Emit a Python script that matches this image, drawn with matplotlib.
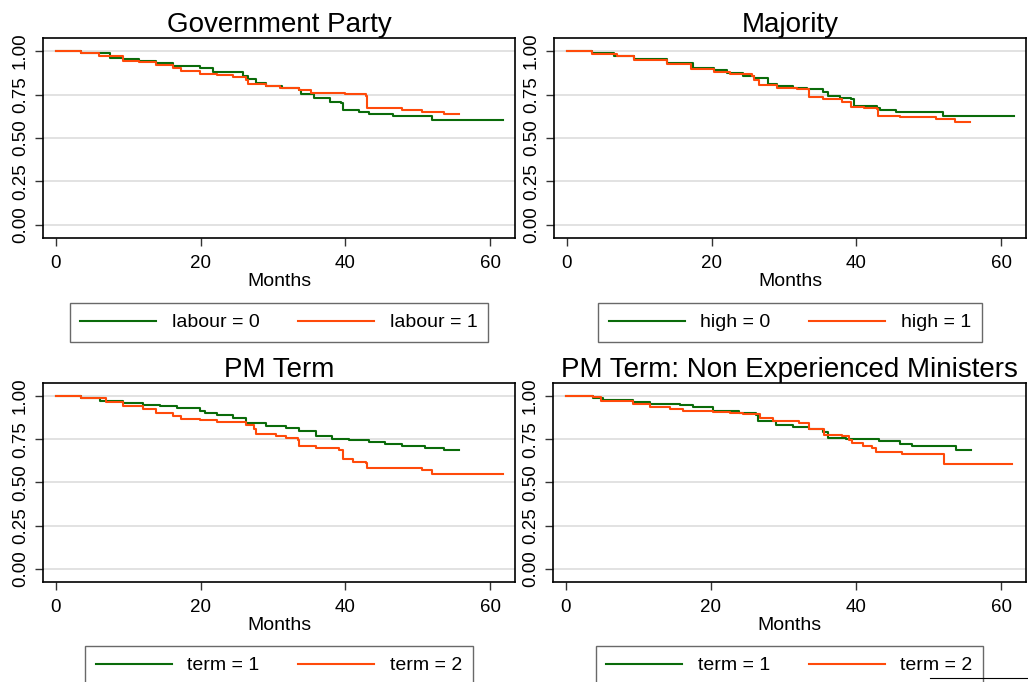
import matplotlib
matplotlib.use("Agg")
import matplotlib.pyplot as plt
from matplotlib.lines import Line2D

plt.rcParams['font.family'] = ['Liberation Sans', 'DejaVu Sans']

GREEN = '#0a6b0a'
ORANGE = '#ff4a0a'

# Kaplan-Meier steps (months, survival)
gov_t0 = [0, 3.5, 7.5, 9.3, 11.5, 13.9, 16.2, 19.9, 21.7, 25.8, 26.5, 27.7, 29, 31.3, 33.6, 33.9,
          35.7, 37.8, 39.4, 39.6, 41.9, 43.3, 46.5, 52, 61.7]
gov_s0 = [1.0, 0.99, 0.958, 0.952, 0.945, 0.933, 0.914, 0.90, 0.881, 0.856, 0.841, 0.814, 0.80, 0.79,
          0.776, 0.751, 0.728, 0.709, 0.70, 0.661, 0.647, 0.636, 0.626, 0.603, 0.603]
gov_t1 = [0, 3.5, 6, 9.3, 11.5, 13.9, 16.2, 17.3, 19.9, 22.2, 24.5, 26.3, 26.5, 29, 30.9, 33.6,
          35.2, 40, 42.8, 43, 47.8, 50.6, 53.6, 55.7]
gov_s1 = [1.0, 0.99, 0.97, 0.943, 0.935, 0.92, 0.90, 0.885, 0.868, 0.86, 0.852, 0.833, 0.808, 0.80,
          0.79, 0.776, 0.757, 0.751, 0.743, 0.67, 0.661, 0.651, 0.636, 0.636]

maj_t0 = [0, 3.5, 6.5, 9.3, 13.9, 17.5, 20.3, 22.1, 24.4, 25.8, 27.8, 29, 31.3, 33.2, 35.4, 36.1,
          37.7, 39.3, 39.6, 42.8, 43.2, 45.5, 52, 61.7]
maj_s0 = [1.0, 0.99, 0.971, 0.952, 0.929, 0.90, 0.89, 0.875, 0.856, 0.845, 0.81, 0.80, 0.789, 0.78,
          0.766, 0.743, 0.732, 0.722, 0.684, 0.67, 0.661, 0.65, 0.626, 0.626]
maj_t1 = [0, 3.5, 7, 9.3, 13.9, 17.1, 20.3, 22.6, 25.6, 25.8, 26.5, 29, 31.8, 33.4, 35.4, 38, 39.3,
          41, 42.8, 43, 46, 51, 53.6, 55.7]
maj_s1 = [1.0, 0.985, 0.971, 0.948, 0.925, 0.897, 0.881, 0.868, 0.856, 0.833, 0.805, 0.79, 0.78,
          0.738, 0.724, 0.709, 0.68, 0.674, 0.665, 0.628, 0.623, 0.609, 0.594, 0.594]

pm_t1 = [0, 3.5, 6.1, 9.3, 12, 14.4, 16.7, 19.9, 20.6, 22.2, 24.5, 26.3, 29, 31.8, 33.6, 35.9, 38.2,
         40.5, 43.3, 45.5, 47.8, 51, 53.6, 55.7]
pm_s1 = [1.0, 0.99, 0.973, 0.958, 0.948, 0.941, 0.929, 0.916, 0.903, 0.891, 0.872, 0.845, 0.824,
         0.815, 0.80, 0.767, 0.754, 0.744, 0.735, 0.721, 0.712, 0.70, 0.687, 0.687]
pm_t2 = [0, 3.5, 7, 9.3, 12, 13.9, 16.2, 17.3, 19.9, 22.2, 26.3, 27.4, 27.6, 30.4, 31.8, 33.4, 33.6,
         35.9, 39.1, 39.6, 41, 42.8, 43, 50.6, 52, 61.7]
pm_s2 = [1.0, 0.99, 0.964, 0.94, 0.926, 0.90, 0.884, 0.868, 0.863, 0.85, 0.834, 0.807, 0.78, 0.771,
         0.758, 0.744, 0.712, 0.70, 0.687, 0.634, 0.62, 0.611, 0.582, 0.573, 0.55, 0.55]

ne_t1 = [0, 3.8, 5.2, 9.3, 11.6, 15.7, 17.5, 20.3, 23.9, 26.2, 26.5, 29, 31.3, 33.5, 35.4, 36.1,
         38.6, 43.1, 46, 47.7, 53.7, 55.8]
ne_s1 = [1.0, 0.989, 0.979, 0.964, 0.954, 0.945, 0.935, 0.916, 0.903, 0.891, 0.853, 0.834, 0.82,
         0.807, 0.792, 0.76, 0.75, 0.739, 0.725, 0.712, 0.69, 0.69]
ne_t2 = [0, 3.8, 4.8, 9.3, 11.6, 14.4, 16.2, 20.3, 22.6, 24.4, 26.7, 28.5, 32.2, 33.5, 35.6, 38.1,
         39, 39.5, 40.9, 42.2, 42.7, 46.3, 52.1, 61.5]
ne_s2 = [1.0, 0.993, 0.969, 0.956, 0.935, 0.922, 0.916, 0.906, 0.901, 0.897, 0.872, 0.853, 0.845,
         0.807, 0.773, 0.767, 0.748, 0.731, 0.71, 0.697, 0.677, 0.662, 0.605, 0.605]

titles = ["Government Party", "Majority", "PM Term", "PM Term: Non Experienced Ministers"]
labels = [("labour = 0", "labour = 1"), ("high = 0", "high = 1"),
          ("term = 1", "term = 2"), ("term = 1", "term = 2")]
curves = [(gov_t0, gov_s0, gov_t1, gov_s1), (maj_t0, maj_s0, maj_t1, maj_s1),
          (pm_t1, pm_s1, pm_t2, pm_s2), (ne_t1, ne_s1, ne_t2, ne_s2)]

yticks = [0, 0.25, 0.5, 0.75, 1.0]
xticks = [0, 20, 40, 60]

W, H = 1028, 682
fig = plt.figure(figsize=(W / 100, H / 100), dpi=100)

# axes boxes in pixels: left, top, right, bottom
boxes = [(43, 38, 515, 238), (554, 38, 1026, 238),
         (43, 383, 515, 582), (553, 383, 1026, 582)]
legend_tops = [303, 303, 646, 646]

for i in range(4):
    l, t, r, b = boxes[i]
    ax = fig.add_axes([l / W, 1 - b / H, (r - l) / W, (b - t) / H])
    ta, sa, tb, sb = curves[i]
    la, lb = labels[i]
    ax.step(ta, sa, where='post', color=GREEN, lw=1.5, label=la)
    ax.step(tb, sb, where='post', color=ORANGE, lw=1.5, label=lb)
    ax.set_xlim(-1.75, 63.4)
    ax.set_ylim(-0.075, 1.075)
    ax.set_yticks(yticks)
    ax.set_yticklabels(["%.2f" % v for v in yticks])
    ax.set_xticks(xticks)
    for y in yticks:
        ax.axhline(y, color='#e2e2e2', lw=1.4, zorder=0)
    ax.tick_params(axis='both', labelsize=13.5, length=6, width=1, color='#333333')
    ax.tick_params(axis='x', pad=6.5)
    ax.tick_params(axis='y', labelrotation=90, pad=4)
    for lab in ax.get_yticklabels():
        lab.set_va('center')
    for sp in ax.spines.values():
        sp.set_linewidth(1.2)
    ax.set_xlabel("Months", fontsize=14, labelpad=0.5)
    ax.set_title(titles[i], fontsize=20, pad=3)
    cx = (l + r) / 2
    ax.legend(loc='upper center', bbox_to_anchor=(cx / W, 1 - legend_tops[i] / H),
              bbox_transform=fig.transFigure, ncol=2, fontsize=14, frameon=True,
              fancybox=False, edgecolor='#444444', handlelength=3.9, handletextpad=0.8,
              columnspacing=2.0, borderpad=0.55, borderaxespad=0)
    ax.get_legend().get_frame().set_linewidth(1.0)

# stray frame line in the lower right corner
fig.add_artist(Line2D([930 / W, 1.0], [1 - 678 / H, 1 - 678 / H], color='black', lw=0.8))

fig.savefig("out.png", dpi=100)
